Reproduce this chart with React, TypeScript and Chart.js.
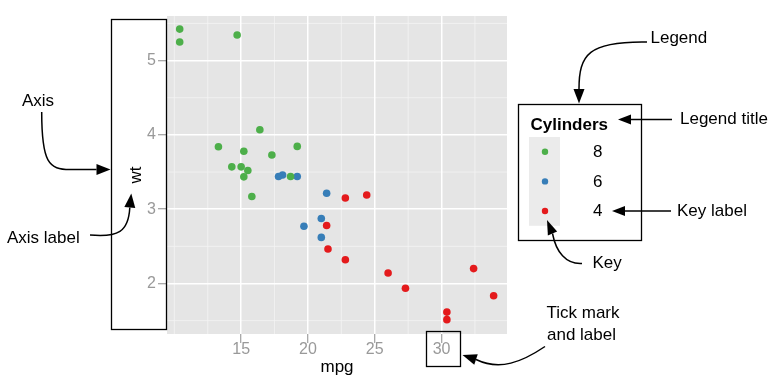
import React, { useEffect, useRef } from "react";
import { Chart, registerables } from "chart.js";

Chart.register(...registerables);

// ---- data (mtcars: mpg vs wt, grouped by cylinders) ----
const cylinderLabels = ["8", "6", "4"];
const seriesColors = ["#4DAF4A", "#377EB8", "#E41A1C"];

const mpgCyl8 = [18.7, 14.3, 16.4, 17.3, 15.2, 10.4, 10.4, 14.7, 15.5, 15.2, 13.3, 19.2, 15.8, 15.0];
const wtCyl8 = [3.44, 3.57, 4.07, 3.73, 3.78, 5.25, 5.424, 5.345, 3.52, 3.435, 3.84, 3.845, 3.17, 3.57];

const mpgCyl6 = [21.0, 21.0, 21.4, 18.1, 19.2, 17.8, 19.7];
const wtCyl6 = [2.62, 2.875, 3.215, 3.46, 3.44, 3.44, 2.77];

const mpgCyl4 = [22.8, 24.4, 22.8, 32.4, 30.4, 33.9, 21.5, 27.3, 26.0, 30.4, 21.4];
const wtCyl4 = [2.32, 3.19, 3.15, 2.2, 1.615, 1.835, 2.465, 1.935, 2.14, 1.513, 2.78];

const xMajorTicks = [15, 20, 25, 30];
const xMinorTicks = [10, 12.5, 17.5, 22.5, 27.5, 32.5];
const yMajorTicks = [2, 3, 4, 5];
const yMinorTicks = [1.5, 2.5, 3.5, 4.5, 5.5];
const xLimits = [9.45, 34.9];
const yLimits = [1.32, 5.6];

const xTitle = "mpg";
const yTitle = "wt";
const legendTitle = "Cylinders";

const FONT = "'Liberation Sans', Arial, Helvetica, sans-serif";

type Pt = [number, number];

function drawHead(ctx: CanvasRenderingContext2D, b: Pt, t: Pt, hw: number) {
  const dx = t[0] - b[0];
  const dy = t[1] - b[1];
  const len = Math.hypot(dx, dy);
  const nx = -dy / len;
  const ny = dx / len;
  ctx.beginPath();
  ctx.moveTo(t[0], t[1]);
  ctx.lineTo(b[0] + nx * hw, b[1] + ny * hw);
  ctx.lineTo(b[0] - nx * hw, b[1] - ny * hw);
  ctx.closePath();
  ctx.fill();
}

// segments: [x,y] => lineTo, [c1x,c1y,c2x,c2y,x,y] => bezier
function drawArrow(ctx: CanvasRenderingContext2D, start: Pt, segs: number[][], tip: Pt, hw: number) {
  ctx.beginPath();
  ctx.moveTo(start[0], start[1]);
  let last: Pt = start;
  for (const s of segs) {
    if (s.length === 2) {
      ctx.lineTo(s[0], s[1]);
      last = [s[0], s[1]];
    } else {
      ctx.bezierCurveTo(s[0], s[1], s[2], s[3], s[4], s[5]);
      last = [s[4], s[5]];
    }
  }
  ctx.stroke();
  drawHead(ctx, last, tip, hw);
}

const anatomyPlugin = {
  id: "anatomy",
  beforeDraw(chart: any) {
    const { ctx, chartArea: a, scales } = chart;
    const xs = scales.x;
    const ys = scales.y;
    ctx.save();
    ctx.fillStyle = "#E5E5E5";
    ctx.fillRect(a.left, a.top, a.right - a.left, a.bottom - a.top);
    ctx.strokeStyle = "#F4F4F4";
    ctx.lineWidth = 0.8;
    ctx.beginPath();
    for (const v of xMinorTicks) {
      const px = xs.getPixelForValue(v);
      if (px < a.left || px > a.right) continue;
      ctx.moveTo(px, a.top);
      ctx.lineTo(px, a.bottom);
    }
    for (const v of yMinorTicks) {
      const py = ys.getPixelForValue(v);
      if (py < a.top || py > a.bottom) continue;
      ctx.moveTo(a.left, py);
      ctx.lineTo(a.right, py);
    }
    ctx.stroke();
    ctx.restore();
  },
  afterDraw(chart: any) {
    const { ctx } = chart;
    ctx.save();

    // ---- legend ----
    ctx.fillStyle = "#FFFFFF";
    ctx.fillRect(518.5, 104.5, 123, 136);
    ctx.fillStyle = "#000";
    ctx.font = `bold 17px ${FONT}`;
    ctx.textAlign = "left";
    ctx.textBaseline = "middle";
    ctx.fillText(legendTitle, 530.5, 125.5);
    const keyTop = 137;
    const keyH = 29.6;
    const ds = chart.data.datasets;
    ctx.fillStyle = "#EBEBEB";
    ctx.fillRect(529, keyTop, 31, keyH * ds.length);
    ds.forEach((d: any, i: number) => {
      const cy = keyTop + keyH * (i + 0.5);
      ctx.fillStyle = d.backgroundColor;
      ctx.beginPath();
      ctx.arc(545, cy, 3.2, 0, Math.PI * 2);
      ctx.fill();
      ctx.fillStyle = "#000";
      ctx.font = `17px ${FONT}`;
      ctx.fillText(d.label, 593, cy + 0.5);
    });

    // ---- boxes ----
    ctx.strokeStyle = "#000";
    ctx.lineWidth = 1.3;
    ctx.strokeRect(518.5, 104.5, 123, 136);
    ctx.strokeRect(111.5, 19.5, 55, 310);
    ctx.strokeRect(426.5, 331.5, 34, 35);

    // ---- annotation texts ----
    ctx.fillStyle = "#000";
    ctx.font = `17px ${FONT}`;
    ctx.textAlign = "left";
    ctx.textBaseline = "middle";
    ctx.fillText("Legend", 650.5, 38);
    ctx.fillText("Legend title", 680, 119.5);
    ctx.fillText("Key label", 677, 211);
    ctx.fillText("Key", 592.5, 263.5);
    ctx.fillText("Axis", 22, 101.5);
    ctx.fillText("Axis label", 7, 238);
    ctx.fillText("Tick mark", 546.5, 313.5);
    ctx.fillText("and label", 547, 335.5);

    // ---- arrows ----
    ctx.lineWidth = 1.5;
    ctx.strokeStyle = "#000";
    ctx.fillStyle = "#000";
    drawArrow(ctx, [647, 42], [[588, 41, 579, 55, 579, 89]], [579, 103.5], 5.5);
    drawArrow(ctx, [672, 119.5], [[631, 119.5]], [618, 119.5], 5);
    drawArrow(ctx, [671, 211], [[625, 211]], [612, 211], 5);
    drawArrow(ctx, [582, 263.5], [[566, 264.5, 556, 252, 552.5, 233.5]], [547, 220], 5);
    drawArrow(ctx, [41.7, 112], [[41.7, 163, 49, 169.5, 70, 169.5], [96.5, 169.5]], [110.5, 169.5], 5.5);
    drawArrow(ctx, [90, 235], [[118, 237.5, 128.5, 232, 129.8, 207.5]], [131.3, 193.5], 5.5);
    drawArrow(ctx, [545, 346.5], [[522, 362, 500, 371, 476, 359.5]], [462.5, 355], 5.5);

    ctx.restore();
  },
};

export default function App() {
  const canvasRef = useRef<HTMLCanvasElement | null>(null);

  useEffect(() => {
    if (!canvasRef.current) return;
    Chart.defaults.font.family = FONT;
    const toPts = (xs: number[], ys: number[]) => xs.map((x, i) => ({ x, y: ys[i] }));
    const seriesData = [toPts(mpgCyl8, wtCyl8), toPts(mpgCyl6, wtCyl6), toPts(mpgCyl4, wtCyl4)];

    const chart = new Chart(canvasRef.current, {
      type: "scatter",
      data: {
        datasets: cylinderLabels.map((label, i) => ({
          label,
          data: seriesData[i],
          backgroundColor: seriesColors[i],
          borderWidth: 0,
          pointRadius: 3.8,
          pointHoverRadius: 3.8,
        })),
      },
      options: {
        responsive: false,
        animation: false,
        devicePixelRatio: 1,
        layout: { padding: { left: 0, right: 272, top: 16, bottom: 0 } },
        plugins: {
          legend: { display: false },
          tooltip: { enabled: false },
        },
        scales: {
          x: {
            type: "linear",
            min: xLimits[0],
            max: xLimits[1],
            afterBuildTicks: (s: any) => {
              s.ticks = xMajorTicks.map((v) => ({ value: v }));
            },
            afterFit: (s: any) => {
              s.height = 50;
            },
            grid: {
              color: "#FFFFFF",
              lineWidth: 1.5,
              tickColor: "#8C8C8C",
              tickLength: 9,
              tickWidth: 1,
            },
            border: { display: false },
            ticks: {
              color: "#999999",
              font: { size: 16 },
              padding: -3,
              maxRotation: 0,
              autoSkip: false,
              callback: (v: any) => String(v),
            },
            title: {
              display: true,
              text: xTitle,
              color: "#000",
              font: { size: 17 },
              padding: { top: 0, bottom: 6.3 },
            },
          },
          y: {
            type: "linear",
            min: yLimits[0],
            max: yLimits[1],
            afterBuildTicks: (s: any) => {
              s.ticks = yMajorTicks.map((v) => ({ value: v }));
            },
            afterFit: (s: any) => {
              s.width = 167;
            },
            grid: {
              color: "#FFFFFF",
              lineWidth: 1.5,
              tickColor: "#8C8C8C",
              tickLength: 9,
              tickWidth: 1,
            },
            border: { display: false },
            ticks: {
              color: "#999999",
              font: { size: 16 },
              padding: 2,
              autoSkip: false,
              callback: (v: any) => String(v),
            },
            title: {
              display: true,
              text: yTitle,
              color: "#000",
              font: { size: 17 },
              padding: { top: 126.3, bottom: 0 },
            },
          },
        },
      },
      plugins: [anatomyPlugin],
    });
    return () => chart.destroy();
  }, []);

  return (
    <div style={{ position: "absolute", left: 0, top: 0, width: 779, height: 384, background: "#fff" }}>
      <canvas ref={canvasRef} width={779} height={384} style={{ width: 779, height: 384, display: "block" }} />
    </div>
  );
}
